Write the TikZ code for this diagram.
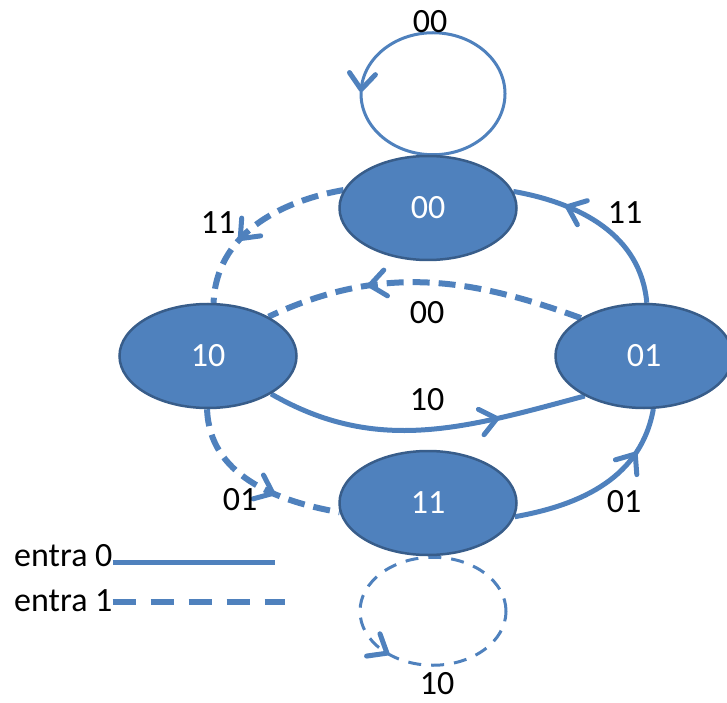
\documentclass[tikz,border=0pt]{standalone}
\usepackage{fontspec}
\setmainfont{Carlito}
\usetikzlibrary{positioning,calc,arrows,arrows.meta,decorations.markings,backgrounds,shapes.geometric}
\definecolor{stfill}{RGB}{79,129,189}
\definecolor{stdraw}{RGB}{56,93,138}
\tikzset{font=\fontsize{34}{40}\selectfont}
\tikzset{
	midarr/.style={postaction={decorate},
		decoration={markings,mark=at position #1 with {
			\draw[solid, line width=5pt, line cap=round, line join=round] (-16pt,13pt) -- (0,0) -- (-16pt,-13pt);}}},
	in0/.style={draw=stfill, line width=5pt},
	in1/.style={draw=stfill, line width=6pt, dash pattern=on 17pt off 9pt},
	loop0/.style={draw=stfill, line width=3pt},
	loop1/.style={draw=stfill, line width=3pt, dash pattern=on 13pt off 10pt},
}

\begin{document}
\begin{tikzpicture}[x=1pt,y=1pt]
	\useasboundingbox (0,0) rectangle (727,702);
	\begin{scope}
		\tikzstyle{every node}=[ellipse, fill=stfill, draw=stdraw, line width=2.5pt, text=white,
			minimum width=177pt, minimum height=104pt, inner sep=0pt]
		\node (s00) at (428, 494) {00};
		\node (s10) at (208, 346) {10};
		\node (s01) at (644, 346) {01};
		\node (s11) at (428, 199) {11};
	\end{scope}

	\begin{scope}[on background layer]
		\draw[loop0, midarr=0.49] ($(s00.north)+(5,61)$) ellipse [x radius=72, y radius=61];
		\draw[loop1, midarr=0.63] ($(s11.south)+(5,-55)$) ellipse [x radius=73, y radius=54];

		\draw[in0, midarr=0.70](s01.87 ) to[out=95,  in=-10 ] (s00.11 );
		\draw[in1, midarr=0.62](s00.168) to[out=190, in=88  ] (s10.84 );
		\draw[in1, midarr=0.67](s01.149) to[out=160, in=25  ] (s10.33 );
		\draw[in0, midarr=0.72](s10.-31) to[out=-30, in=195 ] (s01.214);
		\draw[in1, midarr=0.62](s10.269) to[out=-88, in=170 ] (s11.186);
		\draw[in0, midarr=0.74](s11.351) to[out=10,  in=-100] (s01.280);
	\end{scope}

	\begin{scope}
		\tikzstyle{every node}=[text=black, inner sep=0pt]
		\node (l00a) at (430, 680) {00};
		\node (l11a) at (218, 479) {11};
		\node (l11b) at (625, 489) {11};
		\node (l00b) at (427, 389) {00};
		\node (l10a) at (427, 302) {10};
		\node (l01a) at (240, 202) {01};
		\node (l01b) at (624, 200) {01};
		\node (l10b) at (437, 18)  {10};

		% legenda
		\node[anchor=west] (e0) at (14, 146) {entra 0};
		\node[anchor=west] (e1) at (14, 101) {entra 1};
		\coordinate (e0end) at (275, 140);
		\coordinate (e1end) at (285, 100);
		\draw[in0] (e0.east |- e0end) -- (e0end);
		\draw[in1, dash pattern=on 23pt off 15pt] (e1.east |- e1end) -- (e1end);
	\end{scope}
\end{tikzpicture}
\end{document}
